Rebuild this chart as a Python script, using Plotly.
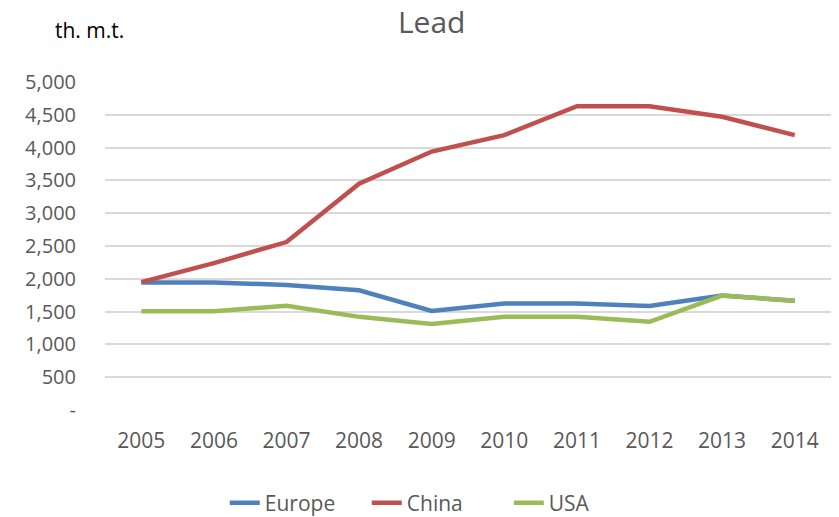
import plotly.graph_objects as go

years = ["2005", "2006", "2007", "2008", "2009", "2010", "2011", "2012", "2013", "2014"]
europe = [1945, 1945, 1905, 1825, 1510, 1625, 1625, 1585, 1745, 1665]
china = [1950, 2240, 2560, 3450, 3940, 4190, 4630, 4630, 4470, 4190]
usa = [1505, 1505, 1590, 1420, 1310, 1420, 1420, 1345, 1745, 1665]

y_ticks = [0, 500, 1000, 1500, 2000, 2500, 3000, 3500, 4000, 4500, 5000]
y_labels = ["-", "500", "1,000", "1,500", "2,000", "2,500", "3,000", "3,500", "4,000", "4,500", "5,000"]

series = [("Europe", europe, "#4F81BD"), ("China", china, "#C0504D"), ("USA", usa, "#9BBB59")]

fig = go.Figure()
for name, vals, color in series:
    fig.add_trace(go.Scatter(x=years, y=vals, mode="lines", name=name,
                             line=dict(color=color, width=4.5)))

# page body has an 8px margin, so the figure is shifted down/right by 8px
fig.update_layout(
    width=839, height=517,
    paper_bgcolor="white", plot_bgcolor="white",
    font=dict(family="Open Sans", size=20, color="#595959"),
    title=dict(text="Lead", x=0.505, xanchor="center", y=0.972, yanchor="middle",
               font=dict(size=30, color="#595959")),
    margin=dict(l=97, r=16, t=74, b=115, autoexpand=False),
    showlegend=True,
    legend=dict(orientation="h", x=0.165, xanchor="left", y=-0.284, yanchor="middle",
                entrywidth=97, font=dict(size=21, color="#595959")),
    annotations=[dict(text="th. m.t.", x=-0.022, y=1.1585, xref="paper", yref="paper",
                      xanchor="center", yanchor="middle", showarrow=False,
                      font=dict(size=21, color="#000000"))],
)

fig.update_xaxes(range=[-0.5, 9.5], showgrid=False, showline=False, ticks="",
                 tickfont=dict(size=21), ticklabelstandoff=16)
fig.update_yaxes(range=[0, 5000], tickvals=y_ticks, ticktext=y_labels,
                 showgrid=True, gridcolor="#D9D9D9", gridwidth=2, zeroline=False,
                 tickfont=dict(size=20), ticklabelstandoff=28)

fig.write_html("out.html")
